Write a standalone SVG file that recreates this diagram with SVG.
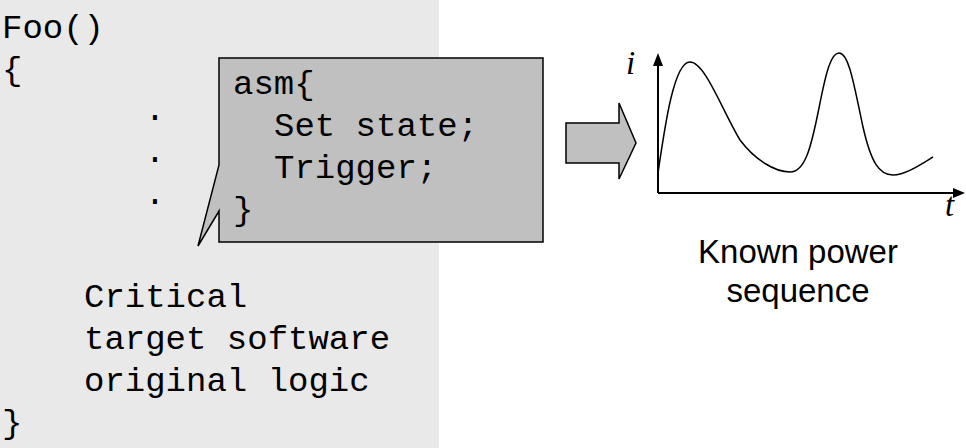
<svg xmlns="http://www.w3.org/2000/svg" width="966" height="448" viewBox="0 0 966 448">
  <style>
    .code { font-family: "Liberation Mono", "Courier New", monospace; font-size: 34px; fill: #000; }
    .label { font-family: "Liberation Sans", Arial, sans-serif; font-size: 33px; fill: #000; text-anchor: middle; }
    .axisname { font-family: "Liberation Serif", "Times New Roman", serif; font-style: italic; font-size: 33px; fill: #000; }
    .shape { fill: #c0c0c0; stroke: #000; stroke-width: 1.5; stroke-linejoin: miter; }
    .axis { stroke: #000; stroke-width: 2; fill: none; }
    .curve { stroke: #000; stroke-width: 1.5; fill: none; }
  </style>

  <!-- source listing panel -->
  <g id="listing">
    <rect x="0" y="0" width="439" height="448" fill="#e9e9e9"/>
    <text class="code" x="2" y="38">Foo()</text>
    <text class="code" x="2" y="80">{</text>
    <text class="code" x="155" y="120" text-anchor="middle">.</text>
    <text class="code" x="155" y="162" text-anchor="middle">.</text>
    <text class="code" x="155" y="204" text-anchor="middle">.</text>
    <text class="code" x="84" y="307">Critical</text>
    <text class="code" x="84" y="349">target software</text>
    <text class="code" x="84" y="391">original logic</text>
    <text class="code" x="2" y="433">}</text>
  </g>

  <!-- injected asm callout -->
  <g id="asm-callout">
    <path class="shape" d="M219,58 H543 V242 H219 V211 L198,246 L219,165 Z"/>
    <text class="code" x="233" y="94">asm{</text>
    <text class="code" x="274" y="136">Set state;</text>
    <text class="code" x="274" y="178">Trigger;</text>
    <text class="code" x="233" y="220">}</text>
  </g>

  <!-- block arrow -->
  <g id="connectors">
    <path class="shape" d="M566,123 H619 V103 L636,143 L619,179 V163 H566 Z"/>
  </g>

  <!-- current vs time plot -->
  <g id="power-trace">
    <line class="axis" x1="658" y1="193" x2="658" y2="64"/>
    <polygon points="653,66 663,66 658,53" fill="#000"/>
    <line class="axis" x1="658" y1="193" x2="955" y2="193"/>
    <polygon points="953,188 953,198 965,193" fill="#000"/>
    <path class="curve" d="M658,173 C665,125 674,62 690,62 C705,62 722,110 740,140 C755,160 775,172 790,172 C805,172 811,148 819,108 C826,72 831,53 839,53 C849,53 854,85 863,127 C871,162 879,175 893,175 C905,175 920,165 933,157"/>
    <text class="axisname" x="626" y="74">i</text>
    <text class="axisname" x="945" y="216">t</text>
  </g>

  <g id="caption">
    <text class="label" x="798" y="263">Known power</text>
    <text class="label" x="798" y="302">sequence</text>
  </g>
</svg>
